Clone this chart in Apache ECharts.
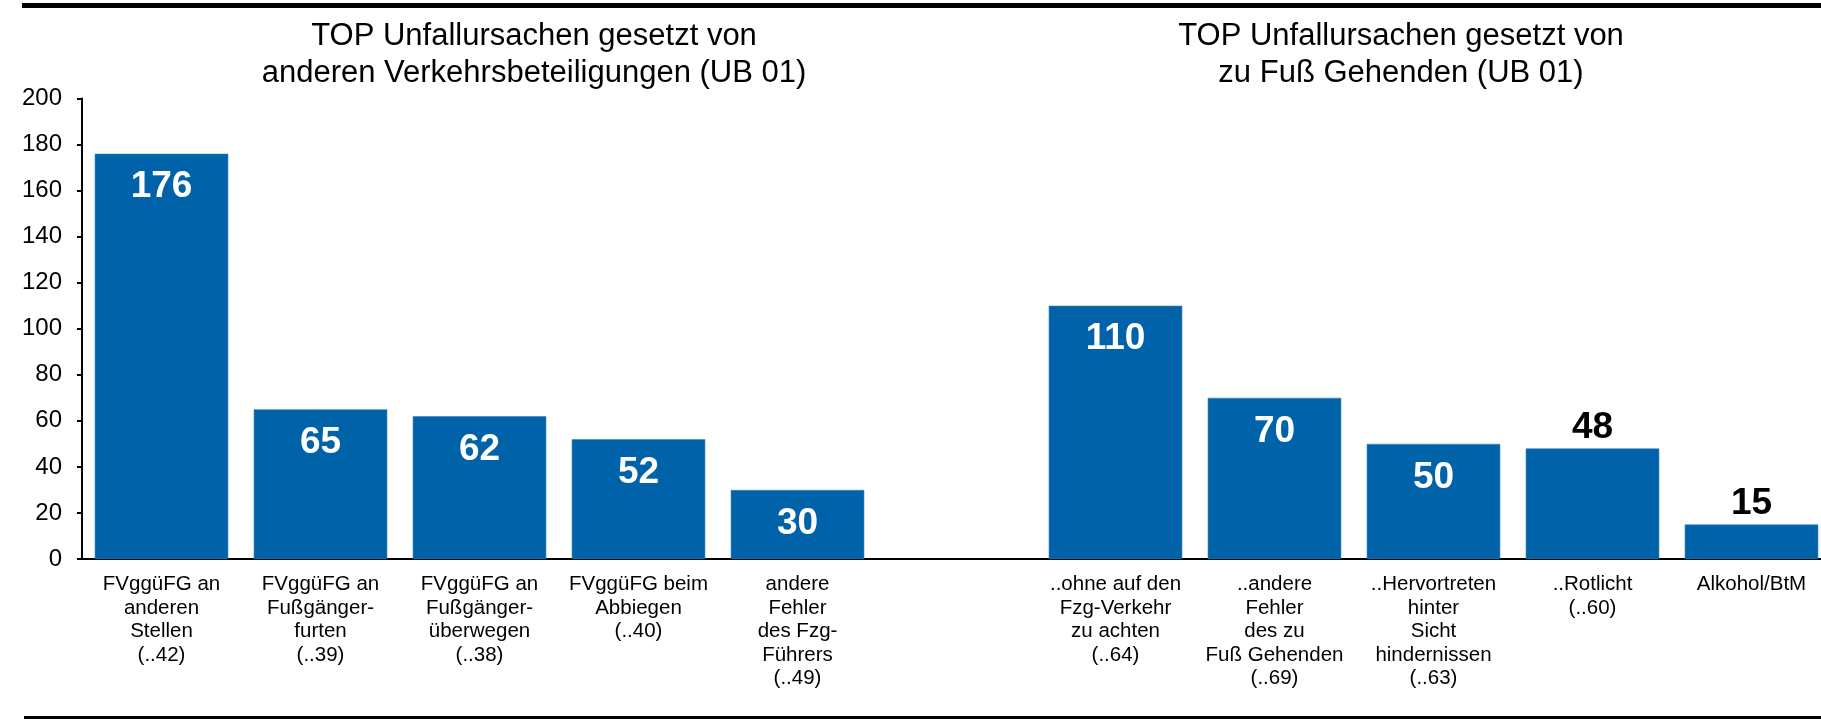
<!DOCTYPE html>
<html>
<head>
<meta charset="utf-8">
<title>TOP Unfallursachen</title>
<script src="https://cdn.jsdelivr.net/npm/echarts@6/dist/echarts.min.js"></script>
<style>
  html, body { margin: 0; padding: 0; background: #fff; overflow: hidden; }
  /* a little wider than the window: the last bar runs off the right edge in the original */
  #chart { width: 1831px; height: 721px; }
</style>
</head>
<body>
<div id="chart"></div>
<script>
// categories: 5 left (other road users), one empty slot, 5 right (pedestrians)
const categories = [
  'FVggüFG an\nanderen\nStellen\n(..42)',
  'FVggüFG an\nFußgänger-\nfurten\n(..39)',
  'FVggüFG an\nFußgänger-\nüberwegen\n(..38)',
  'FVggüFG beim\nAbbiegen\n(..40)',
  'andere\nFehler\ndes Fzg-\nFührers\n(..49)',
  '',
  '..ohne auf den\nFzg-Verkehr\nzu achten\n(..64)',
  '..andere\nFehler\ndes zu\nFuß Gehenden\n(..69)',
  '..Hervortreten\nhinter\nSicht\nhindernissen\n(..63)',
  '..Rotlicht\n(..60)',
  'Alkohol/BtM'
];
const counts = [176, 65, 62, 52, 30, null, 110, 70, 50, 48, 15];
const titleLeft = 'TOP Unfallursachen gesetzt von\nanderen Verkehrsbeteiligungen (UB 01)';
const titleRight = 'TOP Unfallursachen gesetzt von\nzu Fuß Gehenden (UB 01)';

const font = 'Liberation Sans, Arial, sans-serif';
const barColor = '#0062A9';
// the two small bars carry their label above the bar
const labelAbove = [9, 10];

const chart = echarts.init(document.getElementById('chart'));

const barData = counts.map((v, i) => {
  if (v === null) return null;
  if (labelAbove.includes(i)) {
    return {
      value: v,
      label: { position: 'top', distance: 2, color: '#000' }
    };
  }
  return v;
});

const titleStyle = {
  fontFamily: font,
  fontSize: 31,
  fontWeight: 'normal',
  color: '#000',
  lineHeight: 37
};

chart.setOption({
  animation: false,
  backgroundColor: '#fff',
  title: [
    { text: titleLeft, left: 534, top: 17.5, padding: 0, textAlign: 'center', textStyle: titleStyle },
    { text: titleRight, left: 1401, top: 17.5, padding: 0, textAlign: 'center', textStyle: titleStyle }
  ],
  grid: { left: 82, right: 0, top: 98.5, bottom: 162, containLabel: false },
  xAxis: {
    type: 'category',
    data: categories,
    axisLine: { show: true, lineStyle: { color: '#000', width: 2 } },
    axisTick: { show: false },
    axisLabel: {
      interval: 0,
      margin: 14,
      color: '#000',
      fontFamily: font,
      fontSize: 20.5,
      lineHeight: 23.5
    }
  },
  yAxis: {
    type: 'value',
    min: 0,
    max: 200,
    interval: 20,
    splitLine: { show: false },
    axisLine: { show: true, lineStyle: { color: '#000', width: 2 } },
    axisTick: { show: true, length: 5, lineStyle: { color: '#000', width: 2 } },
    axisLabel: { margin: 20, color: '#000', fontFamily: font, fontSize: 24 }
  },
  series: [{
    type: 'bar',
    data: barData,
    barCategoryGap: '16%',
    itemStyle: { color: barColor, borderColor: '#3a82c0', borderWidth: 0.6 },
    label: {
      show: true,
      position: 'insideTop',
      distance: 15,
      color: '#fff',
      fontFamily: font,
      fontSize: 37,
      fontWeight: 'bold'
    }
  }],
  graphic: [
    { type: 'rect', shape: { x: 22, y: 3, width: 1810, height: 5 }, style: { fill: '#000' } },
    { type: 'rect', shape: { x: 24, y: 716, width: 1810, height: 3 }, style: { fill: '#000' } }
  ]
});
</script>
</body>
</html>
